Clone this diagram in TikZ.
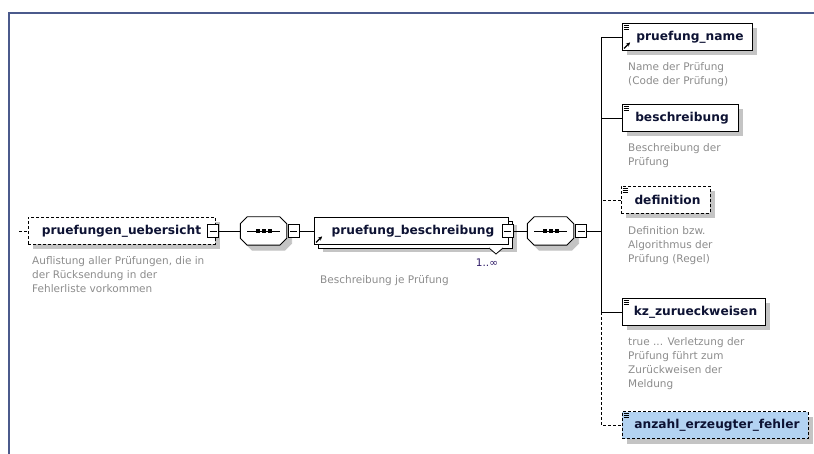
\documentclass[tikz,border=0pt]{standalone}
\usepackage{fontspec}
\setmainfont{DejaVu Sans}
\usetikzlibrary{shadows,arrows.meta}
\definecolor{framecol}{HTML}{4B5A8C}
\definecolor{namecol}{HTML}{0D1233}
\definecolor{desccol}{HTML}{8C8C8C}
\definecolor{shadecol}{HTML}{C4C4C4}
\definecolor{occurcol}{HTML}{2E1A66}
\definecolor{selcol}{HTML}{B3D3F2}

\tikzset{
  conn/.style={line width=0.9pt},
  optconn/.style={conn, dash pattern=on 3pt off 2pt},
  elem/.style={draw=black, fill=white, line width=0.9pt, minimum height=27, inner sep=0,
    text=namecol, font=\fontsize{12.2}{14}\selectfont\bfseries},
  shade/.style={drop shadow={shadow xshift=5pt, shadow yshift=-5pt, fill=shadecol, opacity=1}},
  optelem/.style={elem, dash pattern=on 3pt off 2pt},
  minusbox/.style={draw=black, fill=white, line width=0.8pt, minimum width=11, minimum height=13, inner sep=0,
    path picture={\draw[line width=0.8pt] ([xshift=2pt]path picture bounding box.west) -- ([xshift=-2pt]path picture bounding box.east);}},
  seqbox/.style={minimum width=46, minimum height=28, inner sep=0},
  desc/.style={anchor=north west, align=left, inner sep=0, text=desccol, font=\fontsize{10.5}{14}\selectfont},
  icon/.style={line width=0.6pt},
}

% octagon of a sequence compositor, drawn round a seqbox node
\newcommand{\seqoct}[1]{%
  \foreach \sx/\sf/\sd in {5/shadecol/shadecol, 0/white/black}
    \filldraw[line width=0.9pt, fill=\sf, draw=\sd]
      ([shift={(\sx+7,\sx)}]#1.north west) -- ([shift={(\sx-7,\sx)}]#1.north east)
      -- ([shift={(\sx,\sx+7)}]#1.north east) -- ([shift={(\sx,\sx-7)}]#1.south east)
      -- ([shift={(\sx-7,\sx)}]#1.south east) -- ([shift={(\sx+7,\sx)}]#1.south west)
      -- ([shift={(\sx,\sx-7)}]#1.south west) -- ([shift={(\sx,\sx+7)}]#1.north west) -- cycle;
  \draw[line width=0.8pt] ([xshift=7pt]#1.west) -- ([xshift=-7pt]#1.east);
  \foreach \dx in {-6,0,6}
    \fill ([xshift=\dx pt]#1.center) +(-2pt,-2pt) rectangle +(2pt,2pt);
}

\begin{document}
\begin{tikzpicture}[x=1pt,y=-1pt]
  \useasboundingbox (0,0) rectangle (814,454);
  % frame
  \draw[framecol, line width=2pt] (9,454) -- (9,13) -- (814,13);

  % root element and the first sequence
  \coordinate (in) at (19,231);
  \node[optelem, shade, minimum width=187] (pu) at (121.5,231) {pruefungen\_uebersicht\hspace{10pt}};
  \node[minusbox] (mu) at (213,231) {};
  \node[seqbox] (seqa) at (263.5,231) {};
  \seqoct{seqa}
  \node[minusbox] (ma) at (293.5,231) {};

  % repeated element
  \node[elem, minimum width=194,
    drop shadow={shadow xshift=9pt, shadow yshift=-8pt, fill=shadecol, opacity=1},
    copy shadow={shadow xshift=4pt, shadow yshift=-4pt, draw=black, fill=white}]
    (pb) at (411,231) {\hspace{4pt}pruefung\_beschreibung\hspace{12pt}};
  \draw[line width=0.8pt, fill=white] (489,248) -- (496,254) -- (503,248);
  \node[minusbox] (mb) at (507.5,231) {};
  \node[text=occurcol, font=\fontsize{10.5}{12}\selectfont, inner sep=0] (occ) at (487,263) {1..∞};
  \node[desc] (pbdesc) at (320,275) {Beschreibung je Prüfung};
  \node[seqbox] (seqb) at (550.5,231) {};
  \seqoct{seqb}
  \node[minusbox] (mc) at (581,231) {};
  \coordinate (bus) at (601,231);

  % children
  \node[elem, shade, minimum width=130] (pn) at (687,37) {\hspace{6pt}pruefung\_name};
  \node[elem, shade, minimum width=116] (bs) at (680,118) {\hspace{4pt}beschreibung};
  \node[optelem, shade, minimum width=89] (df) at (665.5,200) {\hspace{4pt}definition};
  \node[elem, shade, minimum width=143] (kz) at (693.5,312) {\hspace{4pt}kz\_zurueckweisen};
  \node[optelem, shade, minimum width=186, fill=selcol] (az) at (715,425) {\hspace{4pt}anzahl\_erzeugter\_fehler};

  % descriptions
  \node[desc] (pudesc) at (32,256) {Auflistung aller Prüfungen, die in\\der Rücksendung in der\\Fehlerliste vorkommen};
  \node[desc] (pndesc) at (628,62) {Name der Prüfung\\(Code der Prüfung)};
  \node[desc] (bsdesc) at (628,143) {Beschreibung der\\Prüfung};
  \node[desc] (dfdesc) at (628,226) {Definition bzw.\\Algorithmus der\\Prüfung (Regel)};
  \node[desc] (kzdesc) at (628,337) {true ... Verletzung der\\Prüfung führt zum\\Zurückweisen der\\Meldung};

  % connectors
  \draw[optconn] (in) -- (pu.west);
  \draw[conn] (mu.east) -- (seqa.west);
  \draw[conn] (ma.east) -- (pb.west);
  \draw[conn] (mb.east) -- (seqb.west);
  \draw[conn] (mc.east) -- (bus);
  \draw[conn] (pn.west) -- (pn.west -| bus) -- (kz.west -| bus) -- (kz.west);
  \draw[conn] (bs.west) -- (bs.west -| bus);
  \draw[optconn] (df.west) -- (df.west -| bus);
  \draw[optconn] (kz.west -| bus) -- (az.west -| bus) -- (az.west);

  % type icons
  \foreach \n in {pn,bs,df,kz,az}
    \foreach \dy in {2.5,4.5,6.5}
      \draw[icon] ([shift={(2,\dy)}]\n.north west) -- ++(5.5,0);
  \foreach \n in {pn,pb}
    \draw[line width=1.1pt, -{Stealth[length=4pt,width=4pt]}] ([shift={(2.5,-2.5)}]\n.south west) -- ++(6,-6);
\end{tikzpicture}
\end{document}
